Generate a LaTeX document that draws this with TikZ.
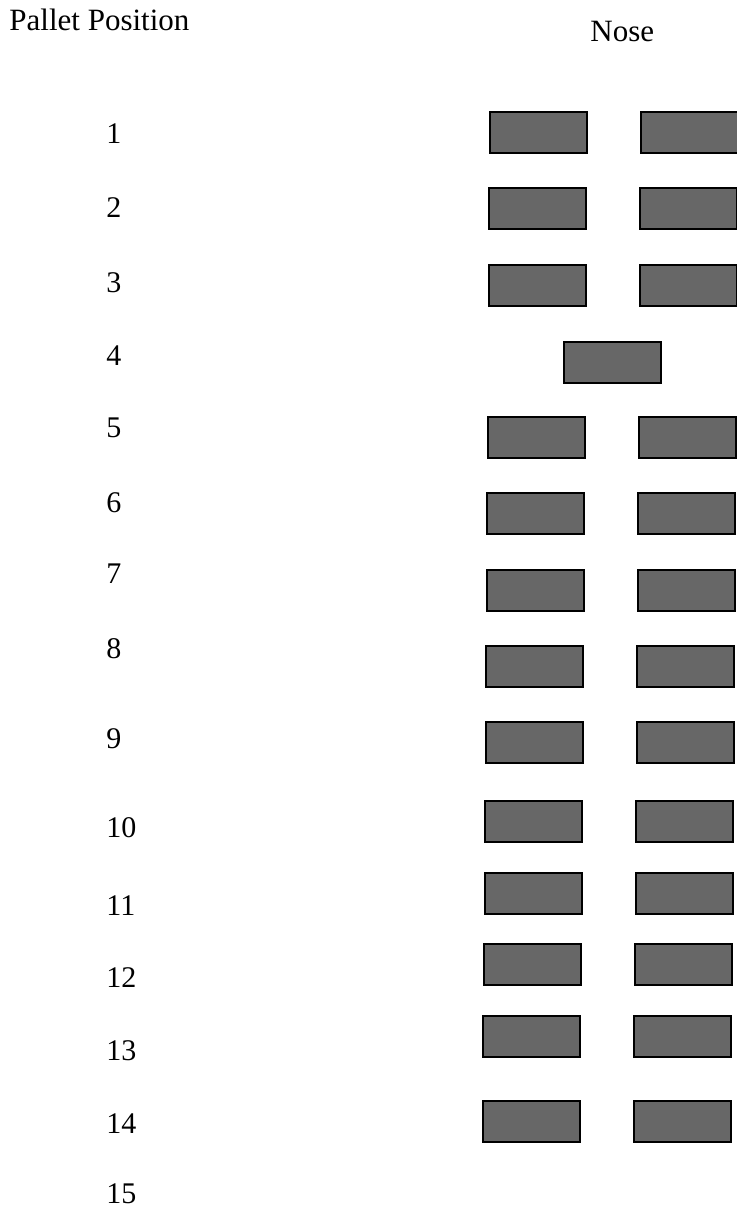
\documentclass[tikz,border=0pt]{standalone}
\usepackage{fontspec}
\setmainfont{Liberation Serif}
\definecolor{pgray}{HTML}{676767}
\tikzset{
  pallet/.style={draw=black,fill=pgray,line width=1pt,minimum width=48.5pt,minimum height=20.5pt,inner sep=0pt},
  num/.style={anchor=base west,inner sep=0pt,font=\fontsize{15}{18}\selectfont},
  hdr/.style={anchor=base west,inner sep=0pt,font=\fontsize{15.5}{18}\selectfont},
}

\begin{document}
\begin{tikzpicture}[x=0.5pt,y=-0.5pt]
  \useasboundingbox (0,0) rectangle (737,1210);
  \node[hdr] (pos) at (9,31) {Pallet Position};
  \node[hdr] (nose) at (590,41) {Nose};
  % row numbers
  \foreach \i/\y in {1/143,2/217,3/292,4/365,5/437,6/512,7/583,8/658,9/748,10/837,11/915,12/987,13/1060,14/1133,15/1203}
    \node[num] (n\i) at (106,\y) {\i};
  % pallets, two abreast
  \foreach \i/\y in {1/132,2/208,3/285,5/437,6/513,7/590,8/666,9/742,10/821,11/893,12/964,13/1036,14/1121} {
    \node[pallet] (l\i) at ({538.5-0.55*(\i-1)},\y) {};
    \node[pallet] (r\i) at ({689.5-0.55*(\i-1)},\y) {};
  }
  % single pallet on the centre line
  \node[pallet] (c4) at (612.5,362) {};
\end{tikzpicture}
\end{document}
